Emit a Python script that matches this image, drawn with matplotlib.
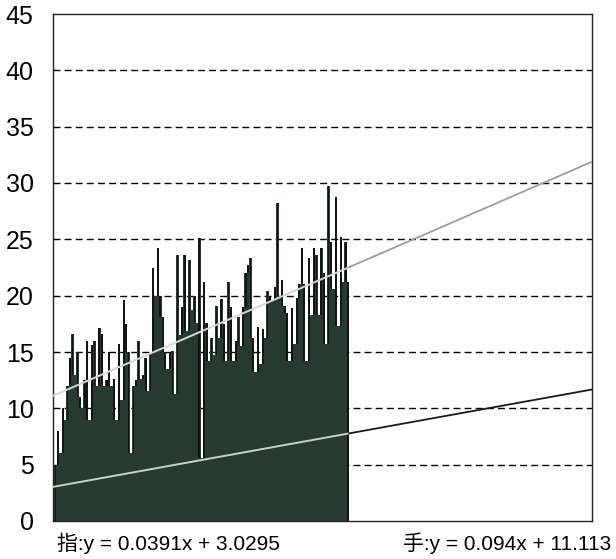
import numpy as np
import matplotlib
matplotlib.use("Agg")
import matplotlib.pyplot as plt

# bar heights, one per x position starting at 1
values = [5, 8, 6, 10, 9, 12, 14.5, 16.6, 13, 15,
          11, 10, 12.5, 16, 9, 15.6, 16, 12, 17.1, 16.6,
          12, 12.5, 15, 12, 12.6, 9, 15.7, 10.7, 19.6, 17.5,
          15, 6, 12, 12.5, 16, 12.6, 13, 14.5, 11.5, 14.8,
          22.5, 20, 24.2, 20, 18.1, 15, 13.5, 15, 15.1, 11.3,
          23.6, 16.5, 19, 23.6, 16.9, 23.2, 18.7, 20, 17.6, 25.1,
          5.6, 21.2, 17.6, 14.2, 16.2, 14.7, 19.1, 16.2, 19.7, 17.5,
          14.2, 21.2, 19, 14.2, 16, 18.1, 15.5, 19, 22, 22.7,
          23.3, 16.2, 13.2, 17.2, 13.9, 17, 16.2, 20.4, 19.9, 19.5,
          20.8, 28.2, 20, 21.4, 19.1, 18.5, 14.2, 18.9, 15.7, 19.8,
          21, 24.2, 21, 14.2, 23.3, 18.3, 24.2, 23.6, 18.3, 24.2,
          22, 15.7, 29.7, 24.8, 20.6, 28.8, 17.3, 25.2, 21.2, 24.8,
          21.2]

# trendlines as printed under the chart
finger_slope, finger_icpt = 0.0391, 3.0295
hand_slope, hand_icpt = 0.094, 11.113
finger_label = "指:y = 0.0391x + 3.0295"
hand_label = "手:y = 0.094x + 11.113"

y_ticks = [0, 5, 10, 15, 20, 25, 30, 35, 40, 45]
x_max = 221

plt.rcParams["font.family"] = ["Liberation Sans", "Noto Sans CJK JP"]

fig = plt.figure(figsize=(6.16, 5.59), dpi=100)
ax = fig.add_axes([53 / 616, 38 / 559, 539 / 616, 507 / 559])

vals = np.array(values)
xs = np.arange(1, len(vals) + 1)

# green body of the columns
ax.bar(xs, vals, width=1.0, color="#263a30", linewidth=0, zorder=2)

# the part of a column that sticks out above a neighbour reads as black
left = np.concatenate([[0], vals[:-1]])
right = np.concatenate([vals[1:], [0]])
low = np.minimum(left, right)
tall = vals > low
ax.bar(xs[tall], (vals - low)[tall], bottom=low[tall], width=0.7,
       color="#141414", linewidth=0, zorder=3)

# trendlines: pale where they cross the columns, darker outside
end_bars = len(vals) + 0.5
x_in = np.linspace(0, end_bars, 50)
x_out = np.linspace(end_bars, x_max, 50)
ax.plot(x_in, finger_slope * x_in + finger_icpt, color="#c9d0c9", lw=1.4, zorder=4)
ax.plot(x_out, finger_slope * x_out + finger_icpt, color="#1a1a1a", lw=1.3, zorder=4)
ax.plot(x_in, hand_slope * x_in + hand_icpt, color="#d6d6d6", lw=1.4, zorder=4)
ax.plot(x_out, hand_slope * x_out + hand_icpt, color="#9c9c9c", lw=1.3, zorder=4)

ax.set_xlim(0, x_max)
ax.set_ylim(0, 45)
ax.set_yticks(y_ticks)
ax.set_yticklabels([str(t) for t in y_ticks], fontsize=18)
ax.tick_params(axis="y", length=0, pad=14)
ax.set_xticks([])
for t in y_ticks[1:-1]:
    ax.axhline(t, color="black", lw=1.0, ls=(0, (5, 3)), zorder=1)
for s in ax.spines.values():
    s.set_linewidth(1.0)
    s.set_color("#222222")

fig.text(57 / 616, 1 - 543 / 559, finger_label, fontsize=15, va="center", ha="left")
fig.text(611 / 616, 1 - 543 / 559, hand_label, fontsize=15, va="center", ha="right")

fig.savefig("out.png", dpi=100)
